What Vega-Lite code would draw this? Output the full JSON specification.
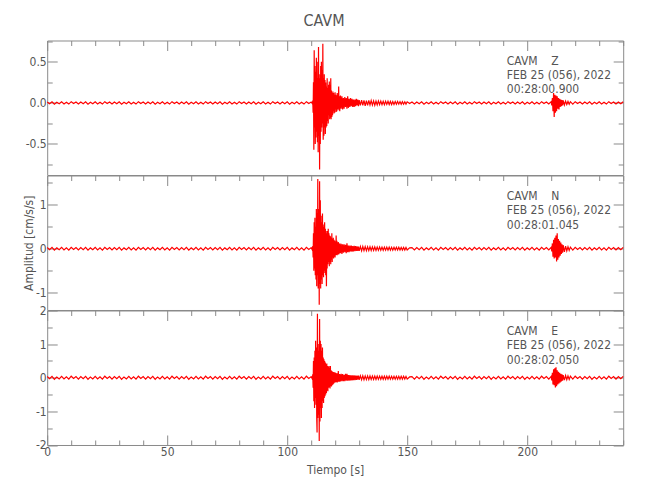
{
"$schema":"https://vega.github.io/schema/vega-lite/v6.json",
"autosize":{"type":"pad"},
"padding":{"left":21.2,"top":12.5,"right":26.5,"bottom":10},
"background":"white",
"title":{"text":"CAVM","anchor":"middle","fontSize":16,"fontWeight":"normal","font":"DejaVu Sans Condensed, DejaVu Sans, sans-serif","color":"#555555","offset":11},
"spacing":0,
"bounds":"flush",
"datasets":{
"o":[{"t":0,"a":0}],
"z":[
{"t":0,"a":0.012},{"t":1,"a":-0.009},{"t":2,"a":0.014},{"t":3,"a":-0.015},{"t":4,"a":0.008},{"t":5,"a":-0.011},{"t":6,"a":0.013},{"t":7,"a":-0.012},{"t":8,"a":0.009},{"t":9,"a":-0.014},{"t":10,"a":0.015},{"t":11,"a":-0.008},{"t":12,"a":0.011},{"t":13,"a":-0.013},
{"t":14,"a":0.012},{"t":15,"a":-0.009},{"t":16,"a":0.014},{"t":17,"a":-0.015},{"t":18,"a":0.008},{"t":19,"a":-0.011},{"t":20,"a":0.013},{"t":21,"a":-0.012},{"t":22,"a":0.009},{"t":23,"a":-0.014},{"t":24,"a":0.015},{"t":25,"a":-0.008},{"t":26,"a":0.011},{"t":27,"a":-0.013},
{"t":28,"a":0.012},{"t":29,"a":-0.009},{"t":30,"a":0.014},{"t":31,"a":-0.015},{"t":32,"a":0.008},{"t":33,"a":-0.011},{"t":34,"a":0.013},{"t":35,"a":-0.012},{"t":36,"a":0.009},{"t":37,"a":-0.014},{"t":38,"a":0.015},{"t":39,"a":-0.008},{"t":40,"a":0.011},{"t":41,"a":-0.013},
{"t":42,"a":0.012},{"t":43,"a":-0.009},{"t":44,"a":0.014},{"t":45,"a":-0.015},{"t":46,"a":0.008},{"t":47,"a":-0.011},{"t":48,"a":0.013},{"t":49,"a":-0.012},{"t":50,"a":0.009},{"t":51,"a":-0.014},{"t":52,"a":0.015},{"t":53,"a":-0.008},{"t":54,"a":0.011},{"t":55,"a":-0.013},
{"t":56,"a":0.012},{"t":57,"a":-0.009},{"t":58,"a":0.014},{"t":59,"a":-0.015},{"t":60,"a":0.008},{"t":61,"a":-0.011},{"t":62,"a":0.013},{"t":63,"a":-0.012},{"t":64,"a":0.009},{"t":65,"a":-0.014},{"t":66,"a":0.015},{"t":67,"a":-0.008},{"t":68,"a":0.011},{"t":69,"a":-0.013},
{"t":70,"a":0.012},{"t":71,"a":-0.009},{"t":72,"a":0.014},{"t":73,"a":-0.015},{"t":74,"a":0.008},{"t":75,"a":-0.011},{"t":76,"a":0.013},{"t":77,"a":-0.012},{"t":78,"a":0.009},{"t":79,"a":-0.014},{"t":80,"a":0.015},{"t":81,"a":-0.008},{"t":82,"a":0.011},{"t":83,"a":-0.013},
{"t":84,"a":0.012},{"t":85,"a":-0.009},{"t":86,"a":0.014},{"t":87,"a":-0.015},{"t":88,"a":0.008},{"t":89,"a":-0.011},{"t":90,"a":0.013},{"t":91,"a":-0.012},{"t":92,"a":0.009},{"t":93,"a":-0.014},{"t":94,"a":0.015},{"t":95,"a":-0.008},{"t":96,"a":0.011},{"t":97,"a":-0.013},
{"t":98,"a":0.012},{"t":99,"a":-0.009},{"t":100,"a":0.014},{"t":101,"a":-0.015},{"t":102,"a":0.008},{"t":103,"a":-0.011},{"t":104,"a":0.013},{"t":105,"a":-0.012},{"t":106,"a":0.009},{"t":107,"a":-0.014},{"t":108,"a":0.015},{"t":109,"a":-0.008},{"t":110,"a":0.011},
{"t":110.5,"a":-0.01},{"t":110.65,"a":0.03},{"t":110.8,"a":-0.12},{"t":110.95,"a":0.25},{"t":111.1,"a":-0.57},{"t":111.25,"a":0.64},{"t":111.4,"a":-0.3},{"t":111.55,"a":0.45},{"t":111.7,"a":-0.5},{"t":111.85,"a":0.38},{"t":112,"a":-0.42},{"t":112.15,"a":0.55},{"t":112.3,"a":-0.35},{"t":112.45,"a":0.3},{"t":112.6,"a":-0.48},{"t":112.75,"a":0.5},{"t":112.9,"a":-0.6},{"t":113.05,"a":0.68},{"t":113.2,"a":-0.4},{"t":113.35,"a":0.35},{"t":113.5,"a":-0.81},{"t":113.65,"a":0.3},{"t":113.8,"a":-0.5},{"t":113.95,"a":0.45},{"t":114.1,"a":-0.35},{"t":114.25,"a":0.5},{"t":114.4,"a":-0.3},{"t":114.55,"a":0.4},{"t":114.7,"a":-0.25},{"t":114.85,"a":0.72},{"t":115,"a":-0.45},{"t":115.15,"a":0.3},{"t":115.3,"a":-0.4},{"t":115.45,"a":0.35},{"t":115.6,"a":-0.3},{"t":115.75,"a":0.28},{"t":115.9,"a":-0.38},{"t":116.05,"a":0.25},{"t":116.2,"a":-0.3},{"t":116.35,"a":0.2},{"t":116.5,"a":-0.28},{"t":116.65,"a":0.3},{"t":116.8,"a":-0.22},{"t":116.95,"a":0.18},{"t":117.1,"a":-0.25},{"t":117.25,"a":0.22},{"t":117.4,"a":-0.15},{"t":117.55,"a":0.26},{"t":117.7,"a":-0.2},{"t":117.85,"a":0.22},{"t":118,"a":-0.18},{"t":118.15,"a":0.3},{"t":118.3,"a":-0.2},{"t":118.45,"a":0.15},{"t":118.6,"a":-0.17},{"t":118.75,"a":0.12},{"t":118.9,"a":-0.15},{"t":119.05,"a":0.14},{"t":119.2,"a":-0.1},{"t":119.35,"a":0.12},{"t":119.5,"a":-0.13},{"t":119.65,"a":0.1},{"t":119.8,"a":-0.12},{"t":119.95,"a":0.13},{"t":120.1,"a":-0.08},{"t":120.25,"a":0.1},{"t":120.4,"a":-0.11},{"t":120.55,"a":0.09},{"t":120.7,"a":-0.1},{"t":120.85,"a":0.12},{"t":121,"a":-0.08},{"t":121.15,"a":0.1},{"t":121.3,"a":-0.07},{"t":121.45,"a":0.2},{"t":121.6,"a":-0.09},{"t":121.75,"a":0.08},{"t":121.9,"a":-0.1},
{"t":122.2,"a":0.09},{"t":122.5,"a":-0.07},{"t":122.8,"a":0.08},{"t":123.1,"a":-0.08},{"t":123.4,"a":0.06},{"t":123.7,"a":-0.07},{"t":124,"a":0.07},{"t":124.3,"a":-0.05},{"t":124.6,"a":0.06},{"t":124.9,"a":-0.07},{"t":125.2,"a":0.08},{"t":125.5,"a":-0.06},{"t":125.8,"a":0.05},{"t":126.1,"a":-0.05},{"t":126.4,"a":0.06},{"t":126.7,"a":-0.04},{"t":127,"a":0.05},{"t":127.3,"a":-0.05},{"t":127.6,"a":0.04},{"t":127.9,"a":-0.05},{"t":128.2,"a":0.04},{"t":128.5,"a":-0.04},{"t":128.8,"a":0.05},{"t":129.1,"a":-0.03},{"t":129.4,"a":0.04},{"t":129.7,"a":-0.04},{"t":130,"a":0.035},
{"t":130.5,"a":-0.03},{"t":131,"a":0.035},{"t":131.5,"a":-0.03},{"t":132,"a":0.03},{"t":132.5,"a":-0.035},{"t":133,"a":0.028},{"t":133.5,"a":-0.03},{"t":134,"a":0.03},{"t":134.5,"a":-0.025},{"t":135,"a":0.028},{"t":135.5,"a":-0.026},{"t":136,"a":0.025},{"t":136.5,"a":-0.028},{"t":137,"a":0.022},{"t":137.5,"a":-0.025},{"t":138,"a":0.024},{"t":138.5,"a":-0.02},{"t":139,"a":0.022},{"t":139.5,"a":-0.022},{"t":140,"a":0.02},{"t":140.5,"a":-0.021},{"t":141,"a":0.02},{"t":141.5,"a":-0.018},{"t":142,"a":0.02},{"t":142.5,"a":-0.019},{"t":143,"a":0.018},{"t":143.5,"a":-0.02},{"t":144,"a":0.017},{"t":144.5,"a":-0.018},{"t":145,"a":0.016},{"t":145.5,"a":-0.017},{"t":146,"a":0.018},{"t":146.5,"a":-0.015},{"t":147,"a":0.016},{"t":147.5,"a":-0.017},{"t":148,"a":0.015},{"t":148.5,"a":-0.016},{"t":149,"a":0.014},{"t":149.5,"a":-0.015},{"t":150,"a":0.013},
{"t":151,"a":-0.008},{"t":152,"a":0.011},{"t":153,"a":-0.013},
{"t":154,"a":0.012},{"t":155,"a":-0.009},{"t":156,"a":0.014},{"t":157,"a":-0.015},{"t":158,"a":0.008},{"t":159,"a":-0.011},{"t":160,"a":0.013},{"t":161,"a":-0.012},{"t":162,"a":0.009},{"t":163,"a":-0.014},{"t":164,"a":0.015},{"t":165,"a":-0.008},{"t":166,"a":0.011},{"t":167,"a":-0.013},
{"t":168,"a":0.012},{"t":169,"a":-0.009},{"t":170,"a":0.014},{"t":171,"a":-0.015},{"t":172,"a":0.008},{"t":173,"a":-0.011},{"t":174,"a":0.013},{"t":175,"a":-0.012},{"t":176,"a":0.009},{"t":177,"a":-0.014},{"t":178,"a":0.015},{"t":179,"a":-0.008},{"t":180,"a":0.011},{"t":181,"a":-0.013},
{"t":182,"a":0.012},{"t":183,"a":-0.009},{"t":184,"a":0.014},{"t":185,"a":-0.015},{"t":186,"a":0.008},{"t":187,"a":-0.011},{"t":188,"a":0.013},{"t":189,"a":-0.012},{"t":190,"a":0.009},{"t":191,"a":-0.014},{"t":192,"a":0.015},{"t":193,"a":-0.008},{"t":194,"a":0.011},{"t":195,"a":-0.013},
{"t":196,"a":0.012},{"t":197,"a":-0.009},{"t":198,"a":0.014},{"t":199,"a":-0.015},{"t":200,"a":0.008},{"t":201,"a":-0.011},{"t":202,"a":0.013},{"t":203,"a":-0.012},{"t":204,"a":0.009},{"t":205,"a":-0.014},{"t":206,"a":0.015},{"t":207,"a":-0.008},{"t":208,"a":0.011},{"t":209,"a":-0.013},
{"t":210,"a":0.015},{"t":210.25,"a":-0.03},{"t":210.5,"a":0.06},{"t":210.75,"a":-0.1},{"t":211,"a":0.12},{"t":211.25,"a":-0.17},{"t":211.5,"a":0.1},{"t":211.75,"a":-0.12},{"t":212,"a":0.09},{"t":212.25,"a":-0.1},{"t":212.5,"a":0.08},{"t":212.75,"a":-0.07},{"t":213,"a":0.06},{"t":213.25,"a":-0.08},{"t":213.5,"a":0.05},{"t":213.75,"a":-0.05},{"t":214,"a":0.04},{"t":214.25,"a":-0.04},{"t":214.5,"a":0.035},{"t":214.75,"a":-0.03},{"t":215,"a":0.03},{"t":215.5,"a":-0.025},{"t":216,"a":0.022},{"t":216.5,"a":-0.02},{"t":217,"a":0.018},{"t":217.5,"a":-0.016},{"t":218,"a":0.015},
{"t":219,"a":-0.014},{"t":220,"a":0.015},{"t":221,"a":-0.008},{"t":222,"a":0.011},{"t":223,"a":-0.013},
{"t":224,"a":0.012},{"t":225,"a":-0.009},{"t":226,"a":0.014},{"t":227,"a":-0.015},{"t":228,"a":0.008},{"t":229,"a":-0.011},{"t":230,"a":0.013},{"t":231,"a":-0.012},{"t":232,"a":0.009},{"t":233,"a":-0.014},{"t":234,"a":0.015},{"t":235,"a":-0.008},{"t":236,"a":0.011},{"t":237,"a":-0.013},
{"t":238,"a":0.012},{"t":239,"a":-0.009},{"t":240,"a":0.014}
],
"n":[
{"t":0,"a":0.026},{"t":1,"a":-0.02},{"t":2,"a":0.031},{"t":3,"a":-0.033},{"t":4,"a":0.018},{"t":5,"a":-0.024},{"t":6,"a":0.029},{"t":7,"a":-0.026},{"t":8,"a":0.02},{"t":9,"a":-0.031},{"t":10,"a":0.033},{"t":11,"a":-0.018},{"t":12,"a":0.024},{"t":13,"a":-0.029},
{"t":14,"a":0.026},{"t":15,"a":-0.02},{"t":16,"a":0.031},{"t":17,"a":-0.033},{"t":18,"a":0.018},{"t":19,"a":-0.024},{"t":20,"a":0.029},{"t":21,"a":-0.026},{"t":22,"a":0.02},{"t":23,"a":-0.031},{"t":24,"a":0.033},{"t":25,"a":-0.018},{"t":26,"a":0.024},{"t":27,"a":-0.029},
{"t":28,"a":0.026},{"t":29,"a":-0.02},{"t":30,"a":0.031},{"t":31,"a":-0.033},{"t":32,"a":0.018},{"t":33,"a":-0.024},{"t":34,"a":0.029},{"t":35,"a":-0.026},{"t":36,"a":0.02},{"t":37,"a":-0.031},{"t":38,"a":0.033},{"t":39,"a":-0.018},{"t":40,"a":0.024},{"t":41,"a":-0.029},
{"t":42,"a":0.026},{"t":43,"a":-0.02},{"t":44,"a":0.031},{"t":45,"a":-0.033},{"t":46,"a":0.018},{"t":47,"a":-0.024},{"t":48,"a":0.029},{"t":49,"a":-0.026},{"t":50,"a":0.02},{"t":51,"a":-0.031},{"t":52,"a":0.033},{"t":53,"a":-0.018},{"t":54,"a":0.024},{"t":55,"a":-0.029},
{"t":56,"a":0.026},{"t":57,"a":-0.02},{"t":58,"a":0.031},{"t":59,"a":-0.033},{"t":60,"a":0.018},{"t":61,"a":-0.024},{"t":62,"a":0.029},{"t":63,"a":-0.026},{"t":64,"a":0.02},{"t":65,"a":-0.031},{"t":66,"a":0.033},{"t":67,"a":-0.018},{"t":68,"a":0.024},{"t":69,"a":-0.029},
{"t":70,"a":0.026},{"t":71,"a":-0.02},{"t":72,"a":0.031},{"t":73,"a":-0.033},{"t":74,"a":0.018},{"t":75,"a":-0.024},{"t":76,"a":0.029},{"t":77,"a":-0.026},{"t":78,"a":0.02},{"t":79,"a":-0.031},{"t":80,"a":0.033},{"t":81,"a":-0.018},{"t":82,"a":0.024},{"t":83,"a":-0.029},
{"t":84,"a":0.026},{"t":85,"a":-0.02},{"t":86,"a":0.031},{"t":87,"a":-0.033},{"t":88,"a":0.018},{"t":89,"a":-0.024},{"t":90,"a":0.029},{"t":91,"a":-0.026},{"t":92,"a":0.02},{"t":93,"a":-0.031},{"t":94,"a":0.033},{"t":95,"a":-0.018},{"t":96,"a":0.024},{"t":97,"a":-0.029},
{"t":98,"a":0.026},{"t":99,"a":-0.02},{"t":100,"a":0.031},{"t":101,"a":-0.033},{"t":102,"a":0.018},{"t":103,"a":-0.024},{"t":104,"a":0.029},{"t":105,"a":-0.026},{"t":106,"a":0.02},{"t":107,"a":-0.031},{"t":108,"a":0.033},{"t":109,"a":-0.018},{"t":110,"a":0.024},
{"t":110.5,"a":-0.03},{"t":110.65,"a":0.06},{"t":110.8,"a":-0.2},{"t":110.95,"a":0.35},{"t":111.1,"a":-0.5},{"t":111.25,"a":0.6},{"t":111.4,"a":-0.45},{"t":111.55,"a":0.7},{"t":111.7,"a":-0.6},{"t":111.85,"a":0.5},{"t":112,"a":-0.7},{"t":112.15,"a":0.9},{"t":112.3,"a":-0.85},{"t":112.45,"a":0.8},{"t":112.6,"a":-0.6},{"t":112.75,"a":1.58},{"t":112.9,"a":-0.9},{"t":113.05,"a":-0.7},{"t":113.2,"a":0.9},{"t":113.35,"a":-1.27},{"t":113.5,"a":1.53},{"t":113.65,"a":-0.8},{"t":113.8,"a":1.1},{"t":113.95,"a":-0.9},{"t":114.1,"a":0.75},{"t":114.25,"a":-0.7},{"t":114.4,"a":0.6},{"t":114.55,"a":-0.8},{"t":114.7,"a":0.8},{"t":114.85,"a":-0.6},{"t":115,"a":0.55},{"t":115.15,"a":-0.65},{"t":115.3,"a":0.5},{"t":115.45,"a":-0.5},{"t":115.6,"a":0.6},{"t":115.75,"a":-0.55},{"t":115.9,"a":0.45},{"t":116.05,"a":-0.6},{"t":116.2,"a":0.4},{"t":116.35,"a":-0.85},{"t":116.5,"a":0.35},{"t":116.65,"a":-0.45},{"t":116.8,"a":0.4},{"t":116.95,"a":-0.35},{"t":117.1,"a":0.45},{"t":117.25,"a":-0.3},{"t":117.4,"a":0.35},{"t":117.55,"a":-0.4},{"t":117.7,"a":0.3},{"t":117.85,"a":-0.3},{"t":118,"a":0.28},{"t":118.15,"a":-0.35},{"t":118.3,"a":0.25},{"t":118.45,"a":-0.25},{"t":118.6,"a":0.35},{"t":118.75,"a":-0.3},{"t":118.9,"a":0.22},{"t":119.05,"a":-0.2},{"t":119.2,"a":0.25},{"t":119.35,"a":-0.22},{"t":119.5,"a":0.2},{"t":119.65,"a":-0.18},{"t":119.8,"a":0.18},{"t":119.95,"a":-0.2},{"t":120.1,"a":0.16},{"t":120.25,"a":-0.15},{"t":120.4,"a":0.3},{"t":120.55,"a":-0.14},{"t":120.7,"a":0.18},{"t":120.85,"a":-0.15},{"t":121,"a":0.14},{"t":121.15,"a":-0.12},{"t":121.3,"a":0.15},{"t":121.45,"a":-0.13},{"t":121.6,"a":0.12},{"t":121.75,"a":-0.11},{"t":121.9,"a":0.12},
{"t":122.2,"a":-0.1},{"t":122.5,"a":0.11},{"t":122.8,"a":-0.12},{"t":123.1,"a":0.1},{"t":123.4,"a":-0.09},{"t":123.7,"a":0.1},{"t":124,"a":-0.08},{"t":124.3,"a":0.09},{"t":124.6,"a":-0.1},{"t":124.9,"a":0.12},{"t":125.2,"a":-0.08},{"t":125.5,"a":0.07},{"t":125.8,"a":-0.08},{"t":126.1,"a":0.07},{"t":126.4,"a":-0.06},{"t":126.7,"a":0.07},{"t":127,"a":-0.07},{"t":127.3,"a":0.06},{"t":127.6,"a":-0.06},{"t":127.9,"a":0.065},{"t":128.2,"a":-0.055},{"t":128.5,"a":0.06},{"t":128.8,"a":-0.05},{"t":129.1,"a":0.055},{"t":129.4,"a":-0.05},{"t":129.7,"a":0.05},{"t":130,"a":-0.05},
{"t":130.5,"a":0.05},{"t":131,"a":-0.048},{"t":131.5,"a":0.05},{"t":132,"a":-0.045},{"t":132.5,"a":0.047},{"t":133,"a":-0.044},{"t":133.5,"a":0.045},{"t":134,"a":-0.042},{"t":134.5,"a":0.043},{"t":135,"a":-0.04},{"t":135.5,"a":0.042},{"t":136,"a":-0.04},{"t":136.5,"a":0.04},{"t":137,"a":-0.038},{"t":137.5,"a":0.04},{"t":138,"a":-0.037},{"t":138.5,"a":0.038},{"t":139,"a":-0.036},{"t":139.5,"a":0.036},{"t":140,"a":-0.035},{"t":140.5,"a":0.035},{"t":141,"a":-0.034},{"t":141.5,"a":0.034},{"t":142,"a":-0.033},{"t":142.5,"a":0.034},{"t":143,"a":-0.032},{"t":143.5,"a":0.033},{"t":144,"a":-0.032},{"t":144.5,"a":0.032},{"t":145,"a":-0.031},{"t":145.5,"a":0.032},{"t":146,"a":-0.03},{"t":146.5,"a":0.031},{"t":147,"a":-0.03},{"t":147.5,"a":0.03},{"t":148,"a":-0.03},{"t":148.5,"a":0.03},{"t":149,"a":-0.029},{"t":149.5,"a":0.03},{"t":150,"a":-0.028},
{"t":151,"a":0.018},{"t":152,"a":0.024},{"t":153,"a":-0.029},
{"t":154,"a":0.026},{"t":155,"a":-0.02},{"t":156,"a":0.031},{"t":157,"a":-0.033},{"t":158,"a":0.018},{"t":159,"a":-0.024},{"t":160,"a":0.029},{"t":161,"a":-0.026},{"t":162,"a":0.02},{"t":163,"a":-0.031},{"t":164,"a":0.033},{"t":165,"a":-0.018},{"t":166,"a":0.024},{"t":167,"a":-0.029},
{"t":168,"a":0.026},{"t":169,"a":-0.02},{"t":170,"a":0.031},{"t":171,"a":-0.033},{"t":172,"a":0.018},{"t":173,"a":-0.024},{"t":174,"a":0.029},{"t":175,"a":-0.026},{"t":176,"a":0.02},{"t":177,"a":-0.031},{"t":178,"a":0.033},{"t":179,"a":-0.018},{"t":180,"a":0.024},{"t":181,"a":-0.029},
{"t":182,"a":0.026},{"t":183,"a":-0.02},{"t":184,"a":0.031},{"t":185,"a":-0.033},{"t":186,"a":0.018},{"t":187,"a":-0.024},{"t":188,"a":0.029},{"t":189,"a":-0.026},{"t":190,"a":0.02},{"t":191,"a":-0.031},{"t":192,"a":0.033},{"t":193,"a":-0.018},{"t":194,"a":0.024},{"t":195,"a":-0.029},
{"t":196,"a":0.026},{"t":197,"a":-0.02},{"t":198,"a":0.031},{"t":199,"a":-0.033},{"t":200,"a":0.018},{"t":201,"a":-0.024},{"t":202,"a":0.029},{"t":203,"a":-0.026},{"t":204,"a":0.02},{"t":205,"a":-0.031},{"t":206,"a":0.033},{"t":207,"a":-0.018},{"t":208,"a":0.024},{"t":209,"a":-0.029},
{"t":210,"a":0.03},{"t":210.25,"a":-0.06},{"t":210.5,"a":0.12},{"t":210.75,"a":-0.18},{"t":211,"a":0.2},{"t":211.25,"a":-0.22},{"t":211.5,"a":0.25},{"t":211.75,"a":-0.2},{"t":212,"a":0.3},{"t":212.25,"a":-0.29},{"t":212.5,"a":0.35},{"t":212.75,"a":-0.25},{"t":213,"a":0.22},{"t":213.25,"a":-0.2},{"t":213.5,"a":0.18},{"t":213.75,"a":-0.16},{"t":214,"a":0.14},{"t":214.25,"a":-0.12},{"t":214.5,"a":0.1},{"t":214.75,"a":-0.09},{"t":215,"a":0.08},{"t":215.5,"a":-0.07},{"t":216,"a":0.06},{"t":216.5,"a":-0.05},{"t":217,"a":0.045},{"t":217.5,"a":-0.04},{"t":218,"a":0.035},
{"t":219,"a":-0.031},{"t":220,"a":0.033},{"t":221,"a":-0.018},{"t":222,"a":0.024},{"t":223,"a":-0.029},
{"t":224,"a":0.026},{"t":225,"a":-0.02},{"t":226,"a":0.031},{"t":227,"a":-0.033},{"t":228,"a":0.018},{"t":229,"a":-0.024},{"t":230,"a":0.029},{"t":231,"a":-0.026},{"t":232,"a":0.02},{"t":233,"a":-0.031},{"t":234,"a":0.033},{"t":235,"a":-0.018},{"t":236,"a":0.024},{"t":237,"a":-0.029},
{"t":238,"a":0.026},{"t":239,"a":-0.02},{"t":240,"a":0.031}
],
"e":[
{"t":0,"a":0.036},{"t":1,"a":-0.027},{"t":2,"a":0.042},{"t":3,"a":-0.045},{"t":4,"a":0.024},{"t":5,"a":-0.033},{"t":6,"a":0.039},{"t":7,"a":-0.036},{"t":8,"a":0.027},{"t":9,"a":-0.042},{"t":10,"a":0.045},{"t":11,"a":-0.024},{"t":12,"a":0.033},{"t":13,"a":-0.039},
{"t":14,"a":0.036},{"t":15,"a":-0.027},{"t":16,"a":0.042},{"t":17,"a":-0.045},{"t":18,"a":0.024},{"t":19,"a":-0.033},{"t":20,"a":0.039},{"t":21,"a":-0.036},{"t":22,"a":0.027},{"t":23,"a":-0.042},{"t":24,"a":0.045},{"t":25,"a":-0.024},{"t":26,"a":0.033},{"t":27,"a":-0.039},
{"t":28,"a":0.036},{"t":29,"a":-0.027},{"t":30,"a":0.042},{"t":31,"a":-0.045},{"t":32,"a":0.024},{"t":33,"a":-0.033},{"t":34,"a":0.039},{"t":35,"a":-0.036},{"t":36,"a":0.027},{"t":37,"a":-0.042},{"t":38,"a":0.045},{"t":39,"a":-0.024},{"t":40,"a":0.033},{"t":41,"a":-0.039},
{"t":42,"a":0.036},{"t":43,"a":-0.027},{"t":44,"a":0.042},{"t":45,"a":-0.045},{"t":46,"a":0.024},{"t":47,"a":-0.033},{"t":48,"a":0.039},{"t":49,"a":-0.036},{"t":50,"a":0.027},{"t":51,"a":-0.042},{"t":52,"a":0.045},{"t":53,"a":-0.024},{"t":54,"a":0.033},{"t":55,"a":-0.039},
{"t":56,"a":0.036},{"t":57,"a":-0.027},{"t":58,"a":0.042},{"t":59,"a":-0.045},{"t":60,"a":0.024},{"t":61,"a":-0.033},{"t":62,"a":0.039},{"t":63,"a":-0.036},{"t":64,"a":0.027},{"t":65,"a":-0.042},{"t":66,"a":0.045},{"t":67,"a":-0.024},{"t":68,"a":0.033},{"t":69,"a":-0.039},
{"t":70,"a":0.036},{"t":71,"a":-0.027},{"t":72,"a":0.042},{"t":73,"a":-0.045},{"t":74,"a":0.024},{"t":75,"a":-0.033},{"t":76,"a":0.039},{"t":77,"a":-0.036},{"t":78,"a":0.027},{"t":79,"a":-0.042},{"t":80,"a":0.045},{"t":81,"a":-0.024},{"t":82,"a":0.033},{"t":83,"a":-0.039},
{"t":84,"a":0.036},{"t":85,"a":-0.027},{"t":86,"a":0.042},{"t":87,"a":-0.045},{"t":88,"a":0.024},{"t":89,"a":-0.033},{"t":90,"a":0.039},{"t":91,"a":-0.036},{"t":92,"a":0.027},{"t":93,"a":-0.042},{"t":94,"a":0.045},{"t":95,"a":-0.024},{"t":96,"a":0.033},{"t":97,"a":-0.039},
{"t":98,"a":0.036},{"t":99,"a":-0.027},{"t":100,"a":0.042},{"t":101,"a":-0.045},{"t":102,"a":0.024},{"t":103,"a":-0.033},{"t":104,"a":0.039},{"t":105,"a":-0.036},{"t":106,"a":0.027},{"t":107,"a":-0.042},{"t":108,"a":0.045},{"t":109,"a":-0.024},{"t":110,"a":0.033},
{"t":110.5,"a":-0.04},{"t":110.65,"a":0.1},{"t":110.8,"a":-0.3},{"t":110.95,"a":0.5},{"t":111.1,"a":-0.7},{"t":111.25,"a":0.6},{"t":111.4,"a":-0.9},{"t":111.55,"a":0.8},{"t":111.7,"a":-0.6},{"t":111.85,"a":1.1},{"t":112,"a":-0.8},{"t":112.15,"a":0.9},{"t":112.3,"a":-1.2},{"t":112.45,"a":-1.63},{"t":112.6,"a":1.9},{"t":112.75,"a":-1.2},{"t":112.9,"a":1.0},{"t":113.05,"a":-1.1},{"t":113.2,"a":0.8},{"t":113.35,"a":-1.88},{"t":113.5,"a":1.75},{"t":113.65,"a":-1.3},{"t":113.8,"a":1.1},{"t":113.95,"a":-0.9},{"t":114.1,"a":1.0},{"t":114.25,"a":-1.2},{"t":114.4,"a":0.8},{"t":114.55,"a":-0.9},{"t":114.7,"a":0.9},{"t":114.85,"a":-0.7},{"t":115,"a":0.6},{"t":115.15,"a":-0.75},{"t":115.3,"a":0.55},{"t":115.45,"a":-0.6},{"t":115.6,"a":0.5},{"t":115.75,"a":-0.55},{"t":115.9,"a":0.45},{"t":116.05,"a":-0.5},{"t":116.2,"a":0.4},{"t":116.35,"a":-0.45},{"t":116.5,"a":0.42},{"t":116.65,"a":-0.38},{"t":116.8,"a":0.35},{"t":116.95,"a":-0.4},{"t":117.1,"a":0.32},{"t":117.25,"a":-0.3},{"t":117.4,"a":0.35},{"t":117.55,"a":-0.28},{"t":117.7,"a":0.3},{"t":117.85,"a":-0.32},{"t":118,"a":0.35},{"t":118.15,"a":-0.25},{"t":118.3,"a":0.22},{"t":118.45,"a":-0.26},{"t":118.6,"a":0.2},{"t":118.75,"a":-0.22},{"t":118.9,"a":0.18},{"t":119.05,"a":-0.2},{"t":119.2,"a":0.17},{"t":119.35,"a":-0.18},{"t":119.5,"a":0.16},{"t":119.65,"a":-0.15},{"t":119.8,"a":0.16},{"t":119.95,"a":-0.14},{"t":120.1,"a":0.15},{"t":120.25,"a":-0.13},{"t":120.4,"a":0.14},{"t":120.55,"a":-0.13},{"t":120.7,"a":0.12},{"t":120.85,"a":-0.14},{"t":121,"a":0.13},{"t":121.15,"a":-0.12},{"t":121.3,"a":0.2},{"t":121.45,"a":-0.12},{"t":121.6,"a":0.11},{"t":121.75,"a":-0.12},{"t":121.9,"a":0.11},
{"t":122.2,"a":-0.11},{"t":122.5,"a":0.12},{"t":122.8,"a":-0.1},{"t":123.1,"a":0.11},{"t":123.4,"a":-0.1},{"t":123.7,"a":0.09},{"t":124,"a":-0.1},{"t":124.3,"a":0.12},{"t":124.6,"a":-0.09},{"t":124.9,"a":0.12},{"t":125.2,"a":-0.09},{"t":125.5,"a":0.08},{"t":125.8,"a":-0.09},{"t":126.1,"a":0.08},{"t":126.4,"a":-0.08},{"t":126.7,"a":0.075},{"t":127,"a":-0.08},{"t":127.3,"a":0.07},{"t":127.6,"a":-0.07},{"t":127.9,"a":0.07},{"t":128.2,"a":-0.068},{"t":128.5,"a":0.065},{"t":128.8,"a":-0.065},{"t":129.1,"a":0.065},{"t":129.4,"a":-0.06},{"t":129.7,"a":0.062},{"t":130,"a":-0.06},
{"t":130.5,"a":0.06},{"t":131,"a":-0.058},{"t":131.5,"a":0.06},{"t":132,"a":-0.056},{"t":132.5,"a":0.056},{"t":133,"a":-0.055},{"t":133.5,"a":0.055},{"t":134,"a":-0.054},{"t":134.5,"a":0.053},{"t":135,"a":-0.052},{"t":135.5,"a":0.052},{"t":136,"a":-0.05},{"t":136.5,"a":0.05},{"t":137,"a":-0.05},{"t":137.5,"a":0.049},{"t":138,"a":-0.048},{"t":138.5,"a":0.048},{"t":139,"a":-0.047},{"t":139.5,"a":0.047},{"t":140,"a":-0.046},{"t":140.5,"a":0.046},{"t":141,"a":-0.045},{"t":141.5,"a":0.045},{"t":142,"a":-0.044},{"t":142.5,"a":0.045},{"t":143,"a":-0.044},{"t":143.5,"a":0.044},{"t":144,"a":-0.043},{"t":144.5,"a":0.043},{"t":145,"a":-0.043},{"t":145.5,"a":0.042},{"t":146,"a":-0.042},{"t":146.5,"a":0.042},{"t":147,"a":-0.041},{"t":147.5,"a":0.042},{"t":148,"a":-0.041},{"t":148.5,"a":0.041},{"t":149,"a":-0.04},{"t":149.5,"a":0.041},{"t":150,"a":-0.04},
{"t":151,"a":0.024},{"t":152,"a":0.033},{"t":153,"a":-0.039},
{"t":154,"a":0.036},{"t":155,"a":-0.027},{"t":156,"a":0.042},{"t":157,"a":-0.045},{"t":158,"a":0.024},{"t":159,"a":-0.033},{"t":160,"a":0.039},{"t":161,"a":-0.036},{"t":162,"a":0.027},{"t":163,"a":-0.042},{"t":164,"a":0.045},{"t":165,"a":-0.024},{"t":166,"a":0.033},{"t":167,"a":-0.039},
{"t":168,"a":0.036},{"t":169,"a":-0.027},{"t":170,"a":0.042},{"t":171,"a":-0.045},{"t":172,"a":0.024},{"t":173,"a":-0.033},{"t":174,"a":0.039},{"t":175,"a":-0.036},{"t":176,"a":0.027},{"t":177,"a":-0.042},{"t":178,"a":0.045},{"t":179,"a":-0.024},{"t":180,"a":0.033},{"t":181,"a":-0.039},
{"t":182,"a":0.036},{"t":183,"a":-0.027},{"t":184,"a":0.042},{"t":185,"a":-0.045},{"t":186,"a":0.024},{"t":187,"a":-0.033},{"t":188,"a":0.039},{"t":189,"a":-0.036},{"t":190,"a":0.027},{"t":191,"a":-0.042},{"t":192,"a":0.045},{"t":193,"a":-0.024},{"t":194,"a":0.033},{"t":195,"a":-0.039},
{"t":196,"a":0.036},{"t":197,"a":-0.027},{"t":198,"a":0.042},{"t":199,"a":-0.045},{"t":200,"a":0.024},{"t":201,"a":-0.033},{"t":202,"a":0.039},{"t":203,"a":-0.036},{"t":204,"a":0.027},{"t":205,"a":-0.042},{"t":206,"a":0.045},{"t":207,"a":-0.024},{"t":208,"a":0.033},{"t":209,"a":-0.039},
{"t":210,"a":0.04},{"t":210.25,"a":-0.08},{"t":210.5,"a":0.15},{"t":210.75,"a":-0.2},{"t":211,"a":0.25},{"t":211.25,"a":-0.22},{"t":211.5,"a":0.28},{"t":211.75,"a":-0.29},{"t":212,"a":0.31},{"t":212.25,"a":-0.25},{"t":212.5,"a":0.22},{"t":212.75,"a":-0.2},{"t":213,"a":0.18},{"t":213.25,"a":-0.17},{"t":213.5,"a":0.15},{"t":213.75,"a":-0.14},{"t":214,"a":0.12},{"t":214.25,"a":-0.11},{"t":214.5,"a":0.1},{"t":214.75,"a":-0.09},{"t":215,"a":0.08},{"t":215.5,"a":-0.07},{"t":216,"a":0.065},{"t":216.5,"a":-0.06},{"t":217,"a":0.055},{"t":217.5,"a":-0.05},{"t":218,"a":0.045},
{"t":219,"a":-0.042},{"t":220,"a":0.045},{"t":221,"a":-0.024},{"t":222,"a":0.033},{"t":223,"a":-0.039},
{"t":224,"a":0.036},{"t":225,"a":-0.027},{"t":226,"a":0.042},{"t":227,"a":-0.045},{"t":228,"a":0.024},{"t":229,"a":-0.033},{"t":230,"a":0.039},{"t":231,"a":-0.036},{"t":232,"a":0.027},{"t":233,"a":-0.042},{"t":234,"a":0.045},{"t":235,"a":-0.024},{"t":236,"a":0.033},{"t":237,"a":-0.039},
{"t":238,"a":0.036},{"t":239,"a":-0.027},{"t":240,"a":0.042}
]
},
"vconcat":[
{
"width":576,"height":134.5,
"layer":[
{"data":{"name":"z"},"mark":{"type":"line","color":"#ff0000","strokeWidth":1.2},
"encoding":{
"x":{"field":"t","type":"quantitative","scale":{"domain":[0,240],"nice":false,"zero":false},"axis":{"orient":"top","values":[0,50,100,150,200],"tickSize":-10,"labels":false,"title":null}},
"y":{"field":"a","type":"quantitative","scale":{"domain":[-0.878,0.76],"nice":false,"zero":false},"axis":{"orient":"left","values":[-0.5,0,0.5],"format":".1f","labelExpr":"replace(datum.label,'\u2212','-')","tickSize":-10,"labelPadding":11,"title":null}}}},
{"data":{"name":"o"},"mark":{"type":"point","opacity":0},
"encoding":{
"x":{"field":"t","type":"quantitative","axis":{"orient":"top","values":[10,20,30,40,60,70,80,90,110,120,130,140,160,170,180,190,210,220,230,240],"tickSize":-5,"labels":false,"title":null}},
"y":{"field":"a","type":"quantitative","axis":{"orient":"left","values":[-0.75,-0.25,0.25,0.75],"tickSize":-5,"labels":false,"title":null}}}},
{"data":{"name":"o"},"mark":{"type":"point","opacity":0},
"encoding":{"y":{"field":"a","type":"quantitative","axis":{"orient":"right","values":[-0.5,0,0.5],"tickSize":-10,"labels":false,"title":null}}}},
{"data":{"name":"o"},"mark":{"type":"point","opacity":0},
"encoding":{"y":{"field":"a","type":"quantitative","axis":{"orient":"right","values":[-0.75,-0.25,0.25,0.75],"tickSize":-5,"labels":false,"title":null}}}},
{"data":{"name":"o"},"mark":{"type":"text","align":"left","baseline":"middle","font":"DejaVu Sans Condensed, DejaVu Sans, sans-serif","fontSize":12,"color":"#555555","lineHeight":14.3,"text":["CAVM\u00a0\u00a0\u00a0\u00a0Z","FEB 25 (056), 2022","00:28:00.900"]},
"encoding":{"x":{"datum":191.5,"type":"quantitative","axis":null},"y":{"datum":0.512,"type":"quantitative","axis":null}}}
],
"resolve":{"axis":{"x":"independent","y":"independent"}}
},
{
"width":576,"height":134.5,
"layer":[
{"data":{"name":"n"},"mark":{"type":"line","color":"#ff0000","strokeWidth":1.2},
"encoding":{
"x":{"field":"t","type":"quantitative","scale":{"domain":[0,240],"nice":false,"zero":false},"axis":{"orient":"top","values":[0,50,100,150,200],"tickSize":-10,"labels":false,"title":null}},
"y":{"field":"a","type":"quantitative","scale":{"domain":[-1.39,1.66],"nice":false,"zero":false},"axis":{"orient":"left","values":[-1,0,1],"format":"d","labelExpr":"replace(datum.label,'\u2212','-')","tickSize":-10,"labelPadding":11,"title":"Amplitud [cm/s/s]","titlePadding":0}}}},
{"data":{"name":"o"},"mark":{"type":"point","opacity":0},
"encoding":{
"x":{"field":"t","type":"quantitative","axis":{"orient":"top","values":[10,20,30,40,60,70,80,90,110,120,130,140,160,170,180,190,210,220,230,240],"tickSize":-5,"labels":false,"title":null}},
"y":{"field":"a","type":"quantitative","axis":{"orient":"left","values":[-0.5,0.5,1.5],"tickSize":-5,"labels":false,"title":null}}}},
{"data":{"name":"o"},"mark":{"type":"point","opacity":0},
"encoding":{"y":{"field":"a","type":"quantitative","axis":{"orient":"right","values":[-1,0,1],"tickSize":-10,"labels":false,"title":null}}}},
{"data":{"name":"o"},"mark":{"type":"point","opacity":0},
"encoding":{"y":{"field":"a","type":"quantitative","axis":{"orient":"right","values":[-0.5,0.5,1.5],"tickSize":-5,"labels":false,"title":null}}}},
{"data":{"name":"o"},"mark":{"type":"text","align":"left","baseline":"middle","font":"DejaVu Sans Condensed, DejaVu Sans, sans-serif","fontSize":12,"color":"#555555","lineHeight":14.3,"text":["CAVM\u00a0\u00a0\u00a0\u00a0N","FEB 25 (056), 2022","00:28:01.045"]},
"encoding":{"x":{"datum":191.5,"type":"quantitative","axis":null},"y":{"datum":1.195,"type":"quantitative","axis":null}}}
],
"resolve":{"axis":{"x":"independent","y":"independent"}}
},
{
"width":576,"height":134.5,
"layer":[
{"data":{"name":"e"},"mark":{"type":"line","color":"#ff0000","strokeWidth":1.2},
"encoding":{
"x":{"field":"t","type":"quantitative","scale":{"domain":[0,240],"nice":false,"zero":false},"axis":{"orient":"top","values":[0,50,100,150,200],"tickSize":-10,"labels":false,"title":null}},
"y":{"field":"a","type":"quantitative","scale":{"domain":[-2,2],"nice":false,"zero":false},"axis":{"orient":"left","values":[-2,-1,0,1,2],"format":"d","labelExpr":"replace(datum.label,'\u2212','-')","tickSize":-10,"labelPadding":11,"title":null}}}},
{"data":{"name":"o"},"mark":{"type":"point","opacity":0},
"encoding":{
"x":{"field":"t","type":"quantitative","axis":{"orient":"top","values":[10,20,30,40,60,70,80,90,110,120,130,140,160,170,180,190,210,220,230,240],"tickSize":-5,"labels":false,"title":null}},
"y":{"field":"a","type":"quantitative","axis":{"orient":"left","values":[-1.5,-0.5,0.5,1.5],"tickSize":-5,"labels":false,"title":null}}}},
{"data":{"name":"o"},"mark":{"type":"point","opacity":0},
"encoding":{
"x":{"field":"t","type":"quantitative","axis":{"orient":"bottom","values":[0,50,100,150,200],"tickSize":-10,"labelPadding":12,"labelFlush":false,"title":"Tiempo [s]","titlePadding":7}},
"y":{"field":"a","type":"quantitative","axis":{"orient":"right","values":[-2,-1,0,1,2],"tickSize":-10,"labels":false,"title":null}}}},
{"data":{"name":"o"},"mark":{"type":"point","opacity":0},
"encoding":{
"x":{"field":"t","type":"quantitative","axis":{"orient":"bottom","values":[10,20,30,40,60,70,80,90,110,120,130,140,160,170,180,190,210,220,230,240],"tickSize":-5,"labels":false,"title":null}},
"y":{"field":"a","type":"quantitative","axis":{"orient":"right","values":[-1.5,-0.5,0.5,1.5],"tickSize":-5,"labels":false,"title":null}}}},
{"data":{"name":"o"},"mark":{"type":"text","align":"left","baseline":"middle","font":"DejaVu Sans Condensed, DejaVu Sans, sans-serif","fontSize":12,"color":"#555555","lineHeight":14.3,"text":["CAVM\u00a0\u00a0\u00a0\u00a0E","FEB 25 (056), 2022","00:28:02.050"]},
"encoding":{"x":{"datum":191.5,"type":"quantitative","axis":null},"y":{"datum":1.388,"type":"quantitative","axis":null}}}
],
"resolve":{"axis":{"x":"independent","y":"independent"}}
}
],
"config":{
"view":{"stroke":"#8a8a8a","strokeWidth":1},
"axis":{"domain":false,"grid":false,"tickColor":"#8a8a8a","tickWidth":1,"labelColor":"#555555","titleColor":"#555555","labelFont":"DejaVu Sans Condensed, DejaVu Sans, sans-serif","titleFont":"DejaVu Sans Condensed, DejaVu Sans, sans-serif","labelFontSize":12,"titleFontSize":12,"titleFontWeight":"normal","labelFlush":false}
}
}
